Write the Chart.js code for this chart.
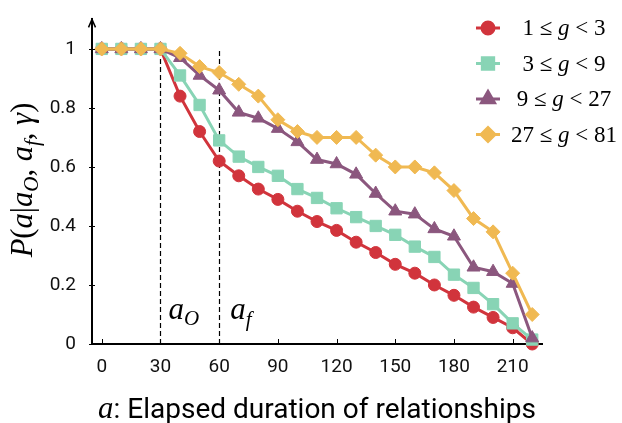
<!DOCTYPE html>
<html>
  <head>
    <title>P(a | a_o, a_f, gamma)</title>
    <script src="https://cdn.jsdelivr.net/npm/chart.js"></script>
    <style>
      body {
        margin: 0;
        background: #fff;
      }
      canvas {
        display: block;
      }
    </style>
  </head>
  <body>
    <canvas id="chart" width="622" height="423"></canvas>

    <script>
      // datos
      const ages = [0, 10, 20, 30, 40, 50, 60, 70, 80, 90, 100, 110, 120, 130, 140, 150, 160, 170, 180, 190, 200, 210, 220];
      const g1to3 = [1, 1, 1, 1, 0.84, 0.72, 0.62, 0.57, 0.525, 0.49, 0.45, 0.415, 0.385, 0.345, 0.31, 0.27, 0.24, 0.2, 0.165, 0.125, 0.09, 0.055, 0];
      const g3to9 = [1, 1, 1, 1, 0.91, 0.81, 0.69, 0.635, 0.6, 0.57, 0.525, 0.495, 0.46, 0.43, 0.4, 0.37, 0.33, 0.295, 0.235, 0.19, 0.135, 0.07, 0.015];
      const g9to27 = [1, 1, 1, 1, 0.97, 0.91, 0.86, 0.785, 0.765, 0.73, 0.685, 0.625, 0.61, 0.575, 0.51, 0.45, 0.44, 0.39, 0.365, 0.26, 0.245, 0.205, 0.02];
      const g27to81 = [1, 1, 1, 1, 0.985, 0.94, 0.92, 0.88, 0.84, 0.76, 0.72, 0.7, 0.7, 0.7, 0.64, 0.6, 0.6, 0.58, 0.52, 0.425, 0.38, 0.24, 0.1];

      const xTicks = [0, 30, 60, 90, 120, 150, 180, 210];
      const yTicks = [0, 0.2, 0.4, 0.6, 0.8, 1];
      const yTickLabels = ["0", "0.2", "0.4", "0.6", "0.8", "1"];
      const cutoffs = [30, 60]; // a_o y a_f

      const series = [
        { lo: "1", hi: "3", values: g1to3, color: "#d1343c", style: "circle", radius: 6, order: 3 },
        { lo: "3", hi: "9", values: g3to9, color: "#88d4b5", style: "rect", radius: 8, order: 2 },
        { lo: "9", hi: "27", values: g9to27, color: "#8b577e", style: "triangle", radius: 7.5, order: 1 },
        { lo: "27", hi: "81", values: g27to81, color: "#f0b952", style: "rectRot", radius: 7, order: 0 },
      ];

      const SERIF = '"Liberation Serif", "DejaVu Serif", serif';
      const SANS = 'Roboto, "Liberation Sans", sans-serif';

      function drawMarker(ctx, s, x, y) {
        if (Chart.helpers && Chart.helpers.drawPoint) {
          Chart.helpers.drawPoint(ctx, { pointStyle: s.style, radius: s.radius, rotation: 0, borderWidth: 1 }, x, y);
        } else {
          ctx.beginPath();
          ctx.arc(x, y, s.radius, 0, Math.PI * 2);
          ctx.fill();
        }
      }

      // dibuja trozos de texto con fuentes mezcladas
      function drawParts(ctx, parts, x, y) {
        let cx = x;
        parts.forEach((p) => {
          ctx.font = p.font;
          ctx.fillText(p.t, cx, y + (p.dy || 0));
          cx += ctx.measureText(p.t).width;
        });
        return cx;
      }
      function partsWidth(ctx, parts) {
        let w = 0;
        parts.forEach((p) => {
          ctx.font = p.font;
          w += ctx.measureText(p.t).width;
        });
        return w;
      }

      const decor = {
        id: "decor",
        beforeDatasetsDraw(chart) {
          const { ctx, scales } = chart;
          const x = scales.x, y = scales.y;
          ctx.save();
          ctx.strokeStyle = "#000";
          ctx.lineWidth = 1.2;
          ctx.setLineDash([5, 3]);
          cutoffs.forEach((v) => {
            const px = Math.round(x.getPixelForValue(v)) + 0.5;
            ctx.beginPath();
            ctx.moveTo(px, y.getPixelForValue(0));
            ctx.lineTo(px, y.getPixelForValue(1));
            ctx.stroke();
          });
          ctx.restore();
        },
        afterDraw(chart) {
          const { ctx, scales, chartArea } = chart;
          const x = scales.x, y = scales.y;
          const left = chartArea.left, bottom = chartArea.bottom;
          ctx.save();

          // marcas de los ejes
          ctx.strokeStyle = "#000";
          ctx.lineWidth = 1;
          xTicks.forEach((v) => {
            const px = Math.round(x.getPixelForValue(v)) + 0.5;
            ctx.beginPath();
            ctx.moveTo(px, bottom);
            ctx.lineTo(px, bottom - 5);
            ctx.stroke();
          });
          yTicks.forEach((v) => {
            const py = Math.round(y.getPixelForValue(v)) + 0.5;
            ctx.beginPath();
            ctx.moveTo(left - 3, py);
            ctx.lineTo(left + 3, py);
            ctx.stroke();
          });

          // flecha del eje y
          ctx.lineWidth = 1.5;
          ctx.beginPath();
          ctx.moveTo(left - 3.5, chartArea.top + 8);
          ctx.lineTo(left, chartArea.top);
          ctx.lineTo(left + 3.5, chartArea.top + 8);
          ctx.stroke();

          ctx.fillStyle = "#000";
          ctx.textBaseline = "alphabetic";
          ctx.textAlign = "left";

          // etiquetas a_o y a_f
          const big = "italic 31px " + SERIF;
          const sub = "italic 21px " + SERIF;
          drawParts(ctx, [{ t: "a", font: big }, { t: "O", font: sub, dy: 6 }], x.getPixelForValue(cutoffs[0]) + 8, 319);
          drawParts(ctx, [{ t: "a", font: big }, { t: "f", font: sub, dy: 7 }], x.getPixelForValue(cutoffs[1]) + 11, 319);

          // leyenda
          series.forEach((s, i) => {
            const ry = 28 + i * 35.5;
            ctx.strokeStyle = s.color;
            ctx.lineWidth = 3;
            ctx.beginPath();
            ctx.moveTo(476, ry);
            ctx.lineTo(500, ry);
            ctx.stroke();
            ctx.fillStyle = s.color;
            ctx.strokeStyle = s.color;
            drawMarker(ctx, s, 488, ry);
            ctx.fillStyle = "#000";
            const f = "23px " + SERIF;
            const parts = [
              { t: s.lo + " ≤ ", font: f },
              { t: "g", font: "italic 23px " + SERIF },
              { t: " < " + s.hi, font: f },
            ];
            const w = partsWidth(ctx, parts);
            drawParts(ctx, parts, Math.min(564 - w / 2, 619 - w), ry + 7);
          });

          // titulo eje y (ajustado a ~155 px)
          let ys = 23;
          const mkY = (sz) => {
            const ti = "italic " + sz + "px " + SERIF;
            const tr = sz + "px " + SERIF;
            const ts = "italic " + Math.round(sz * 0.7) + "px " + SERIF;
            return [
              { t: "P", font: ti }, { t: "(", font: tr }, { t: "a", font: ti }, { t: "|", font: tr },
              { t: "a", font: ti }, { t: "O", font: ts, dy: sz * 0.18 }, { t: ", ", font: tr },
              { t: "a", font: ti }, { t: "f", font: ts, dy: sz * 0.22 }, { t: ", ", font: tr },
              { t: "γ", font: ti }, { t: ")", font: tr },
            ];
          };
          ys = ys * 155 / partsWidth(ctx, mkY(ys));
          const yParts = mkY(ys);
          ctx.save();
          ctx.translate(32, 180);
          ctx.rotate(-Math.PI / 2);
          drawParts(ctx, yParts, -partsWidth(ctx, yParts) / 2, 0);
          ctx.restore();

          // titulo eje x (ajustado a ~438 px)
          const mkX = (sz) => [
            { t: "a", font: "italic " + (sz * 1.1) + "px " + SERIF },
            { t: ": Elapsed duration of relationships", font: sz + "px " + SANS },
          ];
          const xs = 22 * 438 / partsWidth(ctx, mkX(22));
          const xParts = mkX(xs);
          drawParts(ctx, xParts, 317 - partsWidth(ctx, xParts) / 2, 418);

          ctx.restore();
        },
      };

      const ctx = document.getElementById("chart").getContext("2d");
      new Chart(ctx, {
        type: "line",
        data: {
          datasets: series.map((s) => ({
            label: s.lo + " ≤ g < " + s.hi,
            data: ages.map((a, i) => ({ x: a, y: s.values[i] })),
            borderColor: s.color,
            backgroundColor: s.color,
            borderWidth: 3,
            pointStyle: s.style,
            pointRadius: s.radius,
            pointBorderWidth: 1,
            pointBackgroundColor: s.color,
            pointBorderColor: s.color,
            tension: 0,
            clip: false,
            order: s.order,
          })),
        },
        options: {
          responsive: false,
          animation: false,
          devicePixelRatio: 1,
          layout: { padding: { top: 13, right: 80, left: 0, bottom: 0 } },
          plugins: {
            legend: { display: false },
            tooltip: { enabled: false },
          },
          scales: {
            x: {
              type: "linear",
              min: -5,
              max: 225,
              afterBuildTicks: (s) => {
                s.ticks = xTicks.map((v) => ({ value: v }));
              },
              afterFit: (s) => {
                s.height = 79;
              },
              grid: { display: false },
              border: { color: "#000", width: 2 },
              ticks: {
                font: { family: SANS, size: 19 },
                color: "#111",
                padding: 4,
                maxRotation: 0,
              },
            },
            y: {
              min: 0,
              max: 1.1,
              afterBuildTicks: (s) => {
                s.ticks = yTicks.map((v) => ({ value: v }));
              },
              afterFit: (s) => {
                s.width = 92;
              },
              grid: { display: false },
              border: { color: "#000", width: 2 },
              ticks: {
                font: { family: SANS, size: 19 },
                color: "#111",
                padding: 8,
                callback: (v, i) => yTickLabels[i],
              },
            },
          },
        },
        plugins: [decor],
      });
    </script>
  </body>
</html>
